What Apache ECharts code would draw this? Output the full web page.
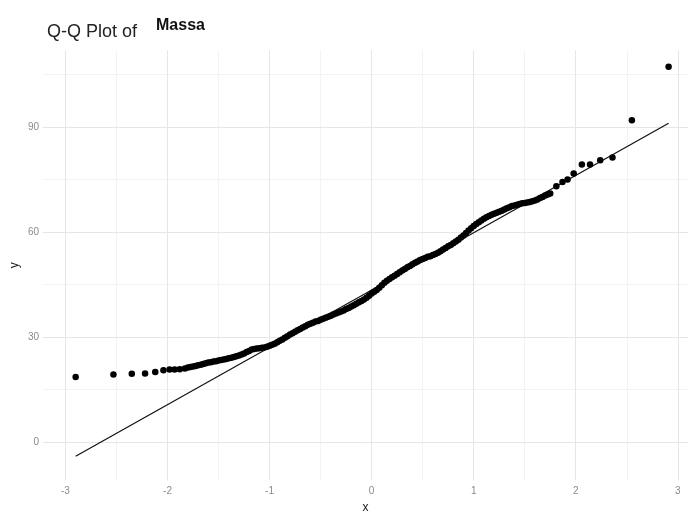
<!DOCTYPE html>
<html>
<head>
<meta charset="utf-8">
<script src="https://cdn.jsdelivr.net/npm/echarts@6/dist/echarts.min.js"></script>
<style>html,body{margin:0;padding:0;background:#fff;}#c{width:688px;height:511px;}</style>
</head>
<body>
<div id="c"></div>
<script>
// Theoretical quantiles (x) and sample quantiles (y)
const qx = [-2.90,-2.53,-2.35,-2.22,-2.12,-2.04,-1.98,-1.93,-1.88,-1.83,
  -1.800,-1.775,-1.750,-1.725,-1.700,-1.675,-1.650,-1.625,-1.600,-1.575,-1.550,-1.525,-1.500,-1.475,
  -1.450,-1.425,-1.400,-1.375,-1.350,-1.325,-1.300,-1.275,-1.250,-1.225,-1.200,-1.175,-1.150,-1.125,
  -1.100,-1.075,-1.050,-1.025,-1.000,-0.975,-0.950,-0.925,-0.900,-0.875,-0.850,-0.825,-0.800,-0.775,
  -0.750,-0.725,-0.700,-0.675,-0.650,-0.625,-0.600,-0.575,-0.550,-0.525,-0.500,-0.475,-0.450,-0.425,
  -0.400,-0.375,-0.350,-0.325,-0.300,-0.275,-0.250,-0.225,-0.200,-0.175,-0.150,-0.125,-0.100,-0.075,
  -0.050,-0.025,0.000,0.025,0.050,0.075,0.100,0.125,0.150,0.175,0.200,0.225,0.250,0.275,0.300,0.325,
  0.350,0.375,0.400,0.425,0.450,0.475,0.500,0.525,0.550,0.575,0.600,0.625,0.650,0.675,0.700,0.725,
  0.750,0.775,0.800,0.825,0.850,0.875,0.900,0.925,0.950,0.975,1.000,1.025,1.050,1.075,1.100,1.125,
  1.150,1.175,1.200,1.225,1.250,1.275,1.300,1.325,1.350,1.375,1.400,1.425,1.450,1.475,1.500,1.525,
  1.550,1.575,1.600,1.625,1.650,1.675,1.700,1.725,
  1.75,1.81,1.87,1.92,1.98,2.06,2.14,2.24,2.36,2.55,2.91];
const qy = [18.6,19.3,19.5,19.6,20.0,20.5,20.7,20.7,20.8,21.0,
  21.3,21.4,21.6,21.7,21.9,22.1,22.3,22.5,22.7,22.8,23.0,23.1,23.3,23.4,
  23.6,23.7,23.9,24.1,24.3,24.5,24.7,25.0,25.3,25.7,26.0,26.4,26.6,26.7,
  26.8,26.9,27.0,27.2,27.5,27.8,28.1,28.5,28.9,29.3,29.8,30.2,30.7,31.1,
  31.5,31.9,32.3,32.7,33.1,33.5,33.8,34.1,34.4,34.6,34.9,35.2,35.5,35.8,
  36.1,36.4,36.7,37.0,37.3,37.6,38.0,38.3,38.7,39.1,39.5,39.9,40.3,40.7,
  41.2,41.8,42.4,42.9,43.4,44.1,44.8,45.5,46.1,46.6,47.1,47.5,48.0,48.5,49.0,49.4,
  49.9,50.3,50.8,51.2,51.6,52.0,52.3,52.6,52.9,53.1,53.4,53.7,54.1,54.5,55.0,55.4,
  55.9,56.3,56.8,57.3,57.8,58.4,59.0,59.7,60.4,61.1,61.7,62.3,62.8,63.3,63.8,64.2,
  64.6,64.9,65.2,65.5,65.8,66.1,66.4,66.8,67.1,67.4,67.6,67.8,68.0,68.2,68.3,68.4,
  68.6,68.8,69.0,69.3,69.7,70.0,70.4,70.7,
  71.0,73.1,74.3,75.0,76.7,79.3,79.3,80.5,81.3,91.9,107.2];
// Reference line end points
const lineX = [-2.90, 2.91];
const lineY = [-4.1, 91.1];
// Tick labels / grid lines
const xTicks = [-3,-2,-1,0,1,2,3];
const xMinor = [-2.5,-1.5,-0.5,0.5,1.5,2.5];
const yTicks = [0,30,60,90];
const yMinor = [15,45,75,105];

const points = qx.map((v,i)=>[v, qy[i]]);
const refLine = lineX.map((v,i)=>[v, lineY[i]]);

const gridLines = [];
xMinor.forEach(v=>gridLines.push({xAxis:v, lineStyle:{color:'#f3f3f3', width:1, type:'solid'}}));
yMinor.forEach(v=>gridLines.push({yAxis:v, lineStyle:{color:'#f3f3f3', width:1, type:'solid'}}));
xTicks.forEach(v=>gridLines.push({xAxis:v, lineStyle:{color:'#e6e6e6', width:1, type:'solid'}}));
yTicks.forEach(v=>gridLines.push({yAxis:v, lineStyle:{color:'#e6e6e6', width:1, type:'solid'}}));

const FONT = 'Liberation Sans, Arial, sans-serif';
const chart = echarts.init(document.getElementById('c'), null, {renderer:'canvas'});
chart.setOption({
  animation:false,
  backgroundColor:'#fff',
  title:[
    {text:'Q-Q Plot of', left:47, top:23, padding:0,
     textStyle:{fontFamily:FONT, fontSize:18, fontWeight:'normal', color:'#222'}},
    {text:'Massa', left:156, top:18, padding:0,
     textStyle:{fontFamily:FONT, fontSize:16, fontWeight:'bold', color:'#111'}}
  ],
  grid:{left:43, right:0, top:50, bottom:30.5, containLabel:false, outerBoundsMode:'none'},
  xAxis:{
    type:'value', min:-3.22, max:3.1,
    name:'x', nameLocation:'middle', nameGap:18,
    nameTextStyle:{fontFamily:FONT, fontSize:12, color:'#222'},
    axisLine:{show:false}, axisTick:{show:false}, splitLine:{show:false},
    axisLabel:{customValues:xTicks, margin:6, color:'#8a8a8a', fontSize:10, fontFamily:FONT}
  },
  yAxis:{
    type:'value', min:-11, max:112,
    name:'y', nameLocation:'middle', nameGap:22, nameRotate:90, nameMoveOverlap:false,
    nameTextStyle:{fontFamily:FONT, fontSize:12, color:'#222'},
    axisLine:{show:false}, axisTick:{show:false}, splitLine:{show:false},
    axisLabel:{customValues:yTicks, margin:4, color:'#8a8a8a', fontSize:10, fontFamily:FONT}
  },
  series:[
    {type:'scatter', data:[], z:0, silent:true,
     markLine:{silent:true, z:0, symbol:['none','none'], label:{show:false}, animation:false, data:gridLines}},
    {type:'line', data:refLine, showSymbol:false, symbol:'none', z:3,
     lineStyle:{color:'#111', width:1.2}},
    {type:'scatter', data:points, symbol:'circle', symbolSize:6.5, z:4,
     itemStyle:{color:'#000', opacity:1}}
  ]
});
</script>
</body>
</html>
